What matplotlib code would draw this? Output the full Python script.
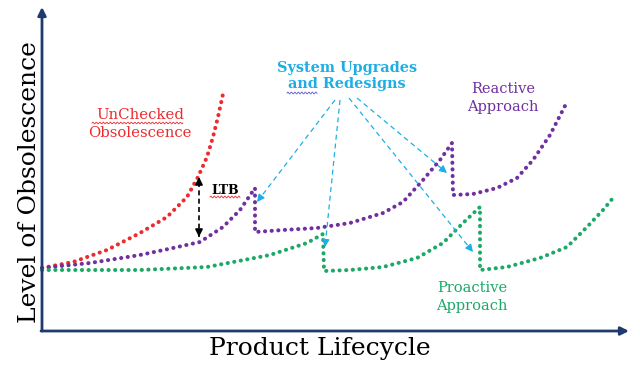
import numpy as np
import matplotlib
matplotlib.use("Agg")
import matplotlib.pyplot as plt

# curves (x = lifecycle, y = obsolescence level)
red_x = [0, 31, 65, 98, 125, 145, 156, 165, 171, 176, 181]
red_y = [63, 69, 81, 98, 114, 134, 154, 174, 194, 214, 237]

purple_x = [0, 48, 98, 131, 158, 181, 198, 213, 213, 241, 275, 308, 341, 361,
            381, 398, 410, 411, 431, 455, 475, 491, 508, 525]
purple_y = [63, 68, 76, 83, 89, 104, 121, 143, 99, 101, 103, 108, 118, 129,
            151, 171, 188, 136, 137, 143, 153, 171, 196, 229]

green_x = [0, 58, 98, 165, 228, 265, 281, 282, 308, 341, 375, 401, 421, 438,
           438, 465, 498, 525, 545, 561, 571]
green_y = [61, 61, 61, 64, 76, 88, 97, 60, 61, 64, 73, 88, 108, 124,
           61, 64, 73, 84, 104, 121, 133]

# "System Upgrades and Redesigns" pointers: start -> end
upg_start = [(293, 231), (298, 231), (315, 233), (307, 233)]
upg_end = [(215, 129), (283, 84), (405, 158), (431, 79)]

# LTB gap between unchecked and reactive curves
ltb_x = 157
ltb_y = (94, 154)

RED = '#ec2b2e'
PURPLE = '#7030a0'
GREEN = '#1ea868'
BLUE = '#1daee6'
NAVY = '#1f3a6e'

plt.rcParams['font.family'] = ['DejaVu Serif']

fig = plt.figure(figsize=(6.4, 3.71), dpi=100)
ax = fig.add_axes([0, 0, 1, 1])
ax.set_xlim(-42, 598)
ax.set_ylim(-40, 331)
ax.axis('off')

dots = dict(lw=2.9, linestyle=(0, (0.05, 1.6)), dash_capstyle='round',
            solid_capstyle='round', solid_joinstyle='round')
ax.plot(red_x, red_y, color=RED, **dots)
ax.plot(purple_x, purple_y, color=PURPLE, **dots)
ax.plot(green_x, green_y, color=GREEN, **dots)

# axes with arrow heads
ax.annotate('', xy=(0, 324), xytext=(0, 0),
            arrowprops=dict(arrowstyle='-|>', color=NAVY, lw=2, mutation_scale=12,
                            shrinkA=0, shrinkB=0))
ax.annotate('', xy=(587, 0), xytext=(-1, 0),
            arrowprops=dict(arrowstyle='-|>', color=NAVY, lw=2, mutation_scale=12,
                            shrinkA=0, shrinkB=0))


def dashed_arrow(p0, p1, color, lw=1.0, both=False, dash=(4, 3)):
    p0 = np.array(p0, float)
    p1 = np.array(p1, float)
    d = (p1 - p0) / np.hypot(*(p1 - p0))
    ax.plot([p0[0], p1[0] - 4 * d[0]], [p0[1], p1[1] - 4 * d[1]],
            color=color, lw=lw, linestyle=(0, dash))
    ends = [(p1, d)] + ([(p0, -d)] if both else [])
    for tip, dd in ends:
        ax.annotate('', xy=tuple(tip), xytext=tuple(tip - 7 * dd),
                    arrowprops=dict(arrowstyle='-|>', color=color, lw=lw,
                                    mutation_scale=11, shrinkA=0, shrinkB=0))


for s, e in zip(upg_start, upg_end):
    dashed_arrow(s, e, BLUE, lw=0.9)

dashed_arrow((ltb_x, ltb_y[0]), (ltb_x, ltb_y[1]), 'black', lw=1.2,
             both=True, dash=(3, 2))


def wavy(x0, x1, y, color):
    t = np.linspace(x0, x1, 120)
    ax.plot(t, y + 0.9 * np.sin((t - x0) * 2 * np.pi / 3.5), color=color, lw=0.6)


# labels
ax.text(98, 207, 'UnChecked\nObsolescence', color=RED, fontsize=10.7,
        ha='center', va='center', linespacing=1.3)
wavy(50, 141, 208, RED)

ax.text(183, 141, 'LTB', color='black', fontsize=9, fontweight='bold',
        ha='center', va='center')
wavy(168, 198, 134, RED)

ax.text(305, 255, 'System Upgrades\nand Redesigns', color=BLUE, fontsize=10.4,
        fontweight='bold', ha='center', va='center', linespacing=1.2)
wavy(245, 275, 238, '#5a5ad0')

ax.text(461, 233, 'Reactive\nApproach', color=PURPLE, fontsize=10.5,
        ha='center', va='center', linespacing=1.3)
ax.text(430, 34, 'Proactive\nApproach', color=GREEN, fontsize=10.5,
        ha='center', va='center', linespacing=1.3)

ax.text(-12, 149, 'Level of Obsolescence', color='black', fontsize=18,
        rotation=90, ha='center', va='center')
ax.text(278, -17, 'Product Lifecycle', color='black', fontsize=18,
        ha='center', va='center')

fig.savefig('out.png', dpi=100)
